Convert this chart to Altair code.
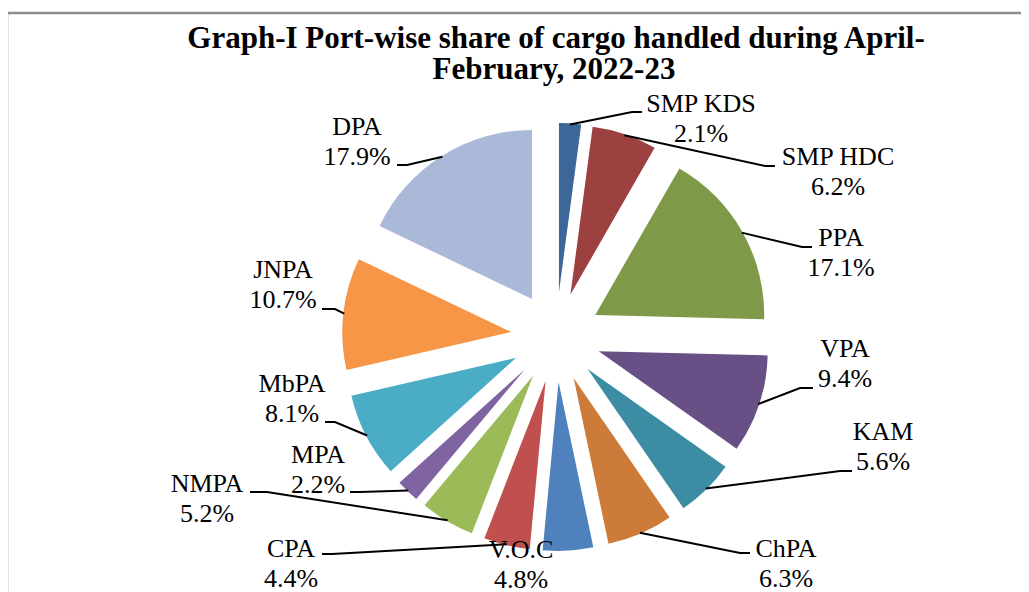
import altair as alt
import pandas as pd
import numpy as np

# ---------------- data ----------------
PORTS = ["SMP KDS", "SMP HDC", "PPA", "VPA", "KAM", "ChPA", "V.O.C",
         "CPA", "NMPA", "MPA", "MbPA", "JNPA", "DPA"]
SHARES = [2.1, 6.2, 17.1, 9.4, 5.6, 6.3, 4.8, 4.4, 5.2, 2.2, 8.1, 10.7, 17.9]
COLORS = ["#3D6699", "#9C413F", "#7E9A48", "#684F86", "#3C8DA3", "#CC7B38",
          "#4F81BD", "#C0504D", "#9BBB59", "#8064A2", "#4BACC6", "#F79646",
          "#AAB9D7"]
TITLE_LINES = ["Graph-I Port-wise share of cargo handled during April-",
               "February, 2022-23"]

# ---------------- layout (page pixel coordinates) ----------------
PAD_LEFT = 4
OX, OY = 8 + PAD_LEFT, 8
W = 1029 - 16 - PAD_LEFT
H = 584
CX, CY = 556, 337
R = 169
EXPLODE = 45
FONT = "Liberation Serif, Times New Roman, DejaVu Serif, serif"

LABEL_POS = {
    "SMP KDS": (701, 112), "SMP HDC": (838, 165), "PPA": (841, 246),
    "VPA": (845, 357), "KAM": (883, 440), "ChPA": (786, 557),
    "V.O.C": (521, 558), "CPA": (291, 557), "NMPA": (207, 492),
    "MPA": (318, 463), "MbPA": (292, 392), "JNPA": (283, 278),
    "DPA": (357, 135),
}
LEADER_BEND = {
    "SMP KDS": [(632, 112), (642, 112)], "SMP HDC": [(765, 166), (775, 166)],
    "PPA": [(802, 247), (812, 247)], "VPA": [(800, 388), (813, 388)],
    "KAM": [(840, 471), (852, 471)], "ChPA": [(740, 553), (750, 553)],
    "CPA": [(332, 554), (322, 554)], "NMPA": [(267, 492), (250, 492)],
    "MPA": [(360, 492), (350, 492)], "MbPA": [(335, 422), (325, 422)],
    "JNPA": [(335, 309), (322, 309)], "DPA": [(407, 165), (397, 165)],
}

XS = alt.Scale(domain=[OX, OX + W], range=[0, W], nice=False, zero=False)
YS = alt.Scale(domain=[OY, OY + H], range=[0, H], nice=False, zero=False)
TS = alt.Scale(domain=[0, 100], range=[0, 2 * np.pi])

# ---------------- pie ----------------
pie_df = pd.DataFrame({"port": PORTS, "share": SHARES, "order": range(len(PORTS))})

pie = (
    alt.Chart(pie_df)
    .transform_window(cum="sum(share)", sort=[alt.SortField("order")], frame=[None, 0])
    .transform_calculate(start="datum.cum - datum.share")
    .transform_calculate(mid="(datum.cum - datum.share / 2) / 100 * 2 * PI")
    .transform_calculate(ox=f"{CX} + {EXPLODE} * sin(datum.mid)")
    .transform_calculate(oy=f"{CY} - {EXPLODE} * cos(datum.mid)")
    .mark_arc(outerRadius=R, innerRadius=0)
    .encode(
        x=alt.X("ox:Q", scale=XS, axis=None),
        y=alt.Y("oy:Q", scale=YS, axis=None),
        theta=alt.Theta("start:Q", scale=TS, stack=False),
        theta2="cum:Q",
        color=alt.Color("port:N", scale=alt.Scale(domain=PORTS, range=COLORS), legend=None),
    )
)

# ---------------- labels ----------------
lab_df = pd.DataFrame({
    "port": PORTS,
    "pct": [f"{s:.1f}%" for s in SHARES],
    "lx": [LABEL_POS[p][0] for p in PORTS],
    "ly": [LABEL_POS[p][1] for p in PORTS],
})
lab_enc = dict(x=alt.X("lx:Q", scale=XS, axis=None), y=alt.Y("ly:Q", scale=YS, axis=None))
names = alt.Chart(lab_df).mark_text(font=FONT, fontSize=26, align="center",
                                    baseline="alphabetic", color="black").encode(text="port:N", **lab_enc)
pcts = alt.Chart(lab_df).mark_text(font=FONT, fontSize=26, align="center", dy=30,
                                   baseline="alphabetic", color="black").encode(text="pct:N", **lab_enc)

# ---------------- leader lines ----------------
cum = np.cumsum(SHARES)
rows = []
for i, p in enumerate(PORTS):
    if p not in LEADER_BEND:
        continue
    mid = (cum[i] - SHARES[i] / 2) / 100 * 2 * np.pi
    ax = CX + (EXPLODE + R - 1) * np.sin(mid)
    ay = CY - (EXPLODE + R - 1) * np.cos(mid)
    pts = [(ax, ay)] + LEADER_BEND[p]
    for k, (x, y) in enumerate(pts):
        rows.append({"port": p, "k": k, "x": x, "y": y})
lead_df = pd.DataFrame(rows)
leaders = alt.Chart(lead_df).mark_line(color="black", strokeWidth=2).encode(
    x=alt.X("x:Q", scale=XS, axis=None), y=alt.Y("y:Q", scale=YS, axis=None),
    detail="port:N", order="k:Q")

# ---------------- title ----------------
t1 = alt.Chart(pd.DataFrame({"t": [TITLE_LINES[0]]})).mark_text(
    font=FONT, fontSize=31, fontWeight="bold", align="center", baseline="alphabetic", color="black"
).encode(x=alt.value(556 - OX), y=alt.value(48 - OY), text="t:N")
t2 = alt.Chart(pd.DataFrame({"t": [TITLE_LINES[1]]})).mark_text(
    font=FONT, fontSize=31, fontWeight="bold", align="center", baseline="alphabetic", color="black"
).encode(x=alt.value(554 - OX), y=alt.value(79 - OY), text="t:N")

# ---------------- frame ----------------
one = pd.DataFrame({"a": [0]})
top_border = alt.Chart(one).mark_rule(color="#8C8C8C", strokeWidth=2.5).encode(
    x=alt.value(7 - OX), x2=alt.value(W + 5), y=alt.value(13 - OY))
left_border = alt.Chart(one).mark_rule(color="#8C8C8C", strokeWidth=2.5).encode(
    x=alt.value(7 - OX), y=alt.value(13 - OY), y2=alt.value(H + 5))

chart = (
    alt.layer(top_border, left_border, pie, leaders, names, pcts, t1, t2)
    .properties(width=W, height=H,
                padding={"left": PAD_LEFT, "top": 0, "right": 0, "bottom": 0},
                autosize=alt.AutoSizeParams(type="none"), background="white")
    .configure_view(stroke=None)
)

chart.save("out.html", embed_options={"renderer": "svg", "actions": False})
